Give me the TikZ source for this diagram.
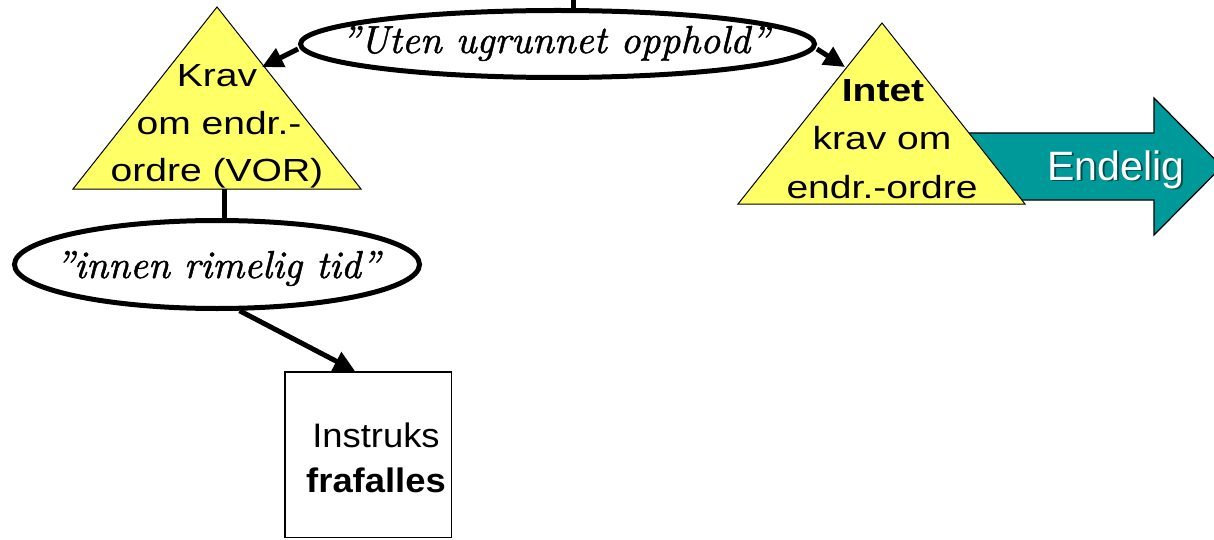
\documentclass[tikz,border=0pt]{standalone}
\usepackage{fontspec}
\setmainfont{Liberation Sans}
\newfontfamily\trifont[FakeStretch=1.22]{Liberation Sans}
\newfontfamily\boxfont[FakeStretch=1.07]{Liberation Sans}
\newfontfamily\handfont[FakeBold=1.2]{lmroman10-italic.otf}
\usetikzlibrary{shapes.geometric,arrows.meta}
\definecolor{triyellow}{HTML}{FFFF66}
\definecolor{tealfill}{HTML}{009999}
\definecolor{tealshadow}{HTML}{004C4C}
\begin{document}
\begin{tikzpicture}[x=1pt,y=-1pt,
  oval/.style={draw, ellipse, line width=5pt, fill=white, inner sep=0pt},
  handtext/.style={font=\handfont\fontsize{39}{39}\selectfont, anchor=base, inner sep=0pt},
  tritext/.style={font=\trifont\fontsize{32}{40}\selectfont, anchor=base, inner sep=0pt},
  boxtext/.style={font=\boxfont\fontsize{34}{40}\selectfont, anchor=base, inner sep=0pt},
  endtext/.style={font=\fontsize{41}{41}\selectfont, anchor=base, inner sep=0pt},
  flow/.style={line width=5pt, -{Triangle[length=21pt,width=20pt]}},
  plainline/.style={line width=5pt},
  tri/.style={draw, fill=triyellow, line width=1pt, line join=miter},
  bigarrow/.style={draw, fill=tealfill, line width=1.2pt, line join=miter}
]
\clip (0,0) rectangle (1214,540);
\fill[white] (0,0) rectangle (1214,540);

% teal arrow "Endelig"
\coordinate (aS1) at (960,133);
\coordinate (aS2) at (960,200);
\draw[bigarrow] (aS1) -- (1154,133) -- (1154,98) -- (1222,166.5) -- (1154,235) -- (1154,200) -- (aS2) -- cycle;
\node[endtext, text=tealshadow] (endS) at (1118,182) {Endelig};
\node[endtext, text=white] (endT) at (1116,180) {Endelig};

% right triangle
\coordinate (iA) at (882,23);
\coordinate (iL) at (738,204);
\coordinate (iR) at (1025,204);
\draw[tri] (iA) -- (iL) -- (iR) -- cycle;
\node[tritext] (i1) at (883,102) {\bfseries Intet};
\node[tritext] (i2) at (882,150) {krav om};
\node[tritext] (i3) at (882,198) {endr.-ordre};

% left triangle
\coordinate (kA) at (217,7);
\coordinate (kL) at (73,189);
\coordinate (kR) at (361,189);
\draw[tri] (kA) -- (kL) -- (kR) -- cycle;
\node[tritext] (k1) at (217,87) {Krav};
\node[tritext] (k2) at (219,135) {om endr.-};
\node[tritext] (k3) at (217,182) {ordre (VOR)};

% top ellipse
\node[oval, minimum width=514pt, minimum height=67pt] (uten) at (557.5,44) {};
\node[handtext] (utenT) at (555,53) {”Uten ugrunnet opphold”};

% lower ellipse
\node[oval, minimum width=405pt, minimum height=88pt] (innen) at (217,264.5) {};
\node[handtext] (innenT) at (217.5,278) {”innen rimelig tid”};

% box
\node[draw, line width=1.5pt, minimum width=166.5pt, minimum height=165.5pt, inner sep=0pt] (box) at (368,454.5) {};
\node[boxtext] (b1) at (376,447) {Instruks};
\node[boxtext] (b2) at (376,492) {\bfseries frafalles};

% connectors
\coordinate (topin) at (573,0);
\draw[plainline] (topin) -- (topin |- uten.north);
\coordinate (kIn) at (262,67);
\coordinate (iIn) at (845,67);
\draw[flow] ([yshift=-5pt]uten.west) -- (kIn);
\draw[flow] ([yshift=-5pt]uten.east) -- (iIn);
\coordinate (kBase) at (224,189);
\draw[plainline] (kBase) -- (kBase |- innen.north);
\draw[flow] (innen.-64) -- ([xshift=-13pt]box.north);
\end{tikzpicture}
\end{document}
